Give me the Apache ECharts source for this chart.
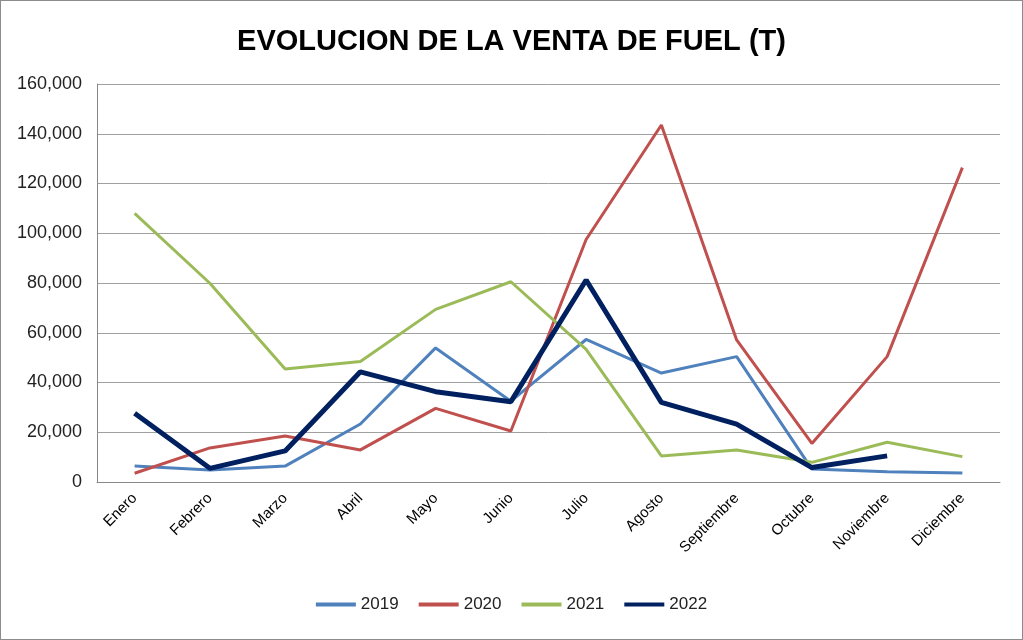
<!DOCTYPE html>
<html>
<head>
<meta charset="utf-8">
<script src="https://cdn.jsdelivr.net/npm/echarts@6/dist/echarts.min.js"></script>
<style>
html,body{margin:0;padding:0;background:#fff;}
#c{width:1021px;height:638px;border:1px solid #8c8c8c;}
</style>
</head>
<body>
<div id="c"></div>
<script>
var months = ['Enero','Febrero','Marzo','Abril','Mayo','Junio','Julio','Agosto','Septiembre','Octubre','Noviembre','Diciembre'];
var v2019 = [6400, 4800, 6400, 23300, 53900, 32500, 57300, 43800, 50400, 5200, 4100, 3600];
var v2020 = [3500, 13700, 18500, 12900, 29600, 20500, 97500, 143500, 57100, 15500, 50400, 126400];
var v2021 = [108000, 79900, 45400, 48400, 69400, 80500, 53300, 10500, 12900, 7900, 16000, 10200];
var v2022 = [27600, 5500, 12500, 44300, 36300, 32300, 81200, 32000, 23300, 5800, 10500, null];
var yTicks = {min: 0, max: 160000, interval: 20000};

var chart = echarts.init(document.getElementById('c'));
var font = 'Liberation Sans';
function ser(name, data, color, width) {
  return {name: name, type: 'line', data: data, symbol: 'none', smooth: false,
    lineStyle: {color: color, width: width}, itemStyle: {color: color}, z: name === '2022' ? 5 : 2};
}
chart.setOption({
  animation: false,
  backgroundColor: '#fff',
  title: {text: 'EVOLUCION DE LA VENTA DE FUEL (T)', left: 'center', top: 21,
    textStyle: {fontFamily: font, fontSize: 29, fontWeight: 'bold', color: '#000'}},
  grid: {left: 96, right: 22, top: 83, bottom: 157},
  legend: {bottom: 21, left: 'center', itemWidth: 40, itemHeight: 4, itemGap: 20, icon: 'rect',
    textStyle: {fontFamily: font, fontSize: 17, color: '#222'},
    data: ['2019','2020','2021','2022']},
  xAxis: {type: 'category', data: months, boundaryGap: true,
    axisLine: {lineStyle: {color: '#888', width: 1}}, axisTick: {show: false},
    axisLabel: {rotate: 45, fontFamily: font, fontSize: 15, color: '#000', margin: 14, interval: 0}},
  yAxis: {type: 'value', min: yTicks.min, max: yTicks.max, interval: yTicks.interval,
    axisLine: {show: true, lineStyle: {color: '#888'}}, axisTick: {show: false},
    splitLine: {lineStyle: {color: '#a0a0a0', width: 1}},
    axisLabel: {fontFamily: font, fontSize: 18, color: '#222', margin: 15,
      formatter: function(v){ return v.toLocaleString('en-US'); }}},
  series: [
    ser('2019', v2019, '#4F81BD', 3),
    ser('2020', v2020, '#C0504D', 3),
    ser('2021', v2021, '#9BBB59', 3),
    ser('2022', v2022, '#002060', 5)
  ]
});
</script>
</body>
</html>
